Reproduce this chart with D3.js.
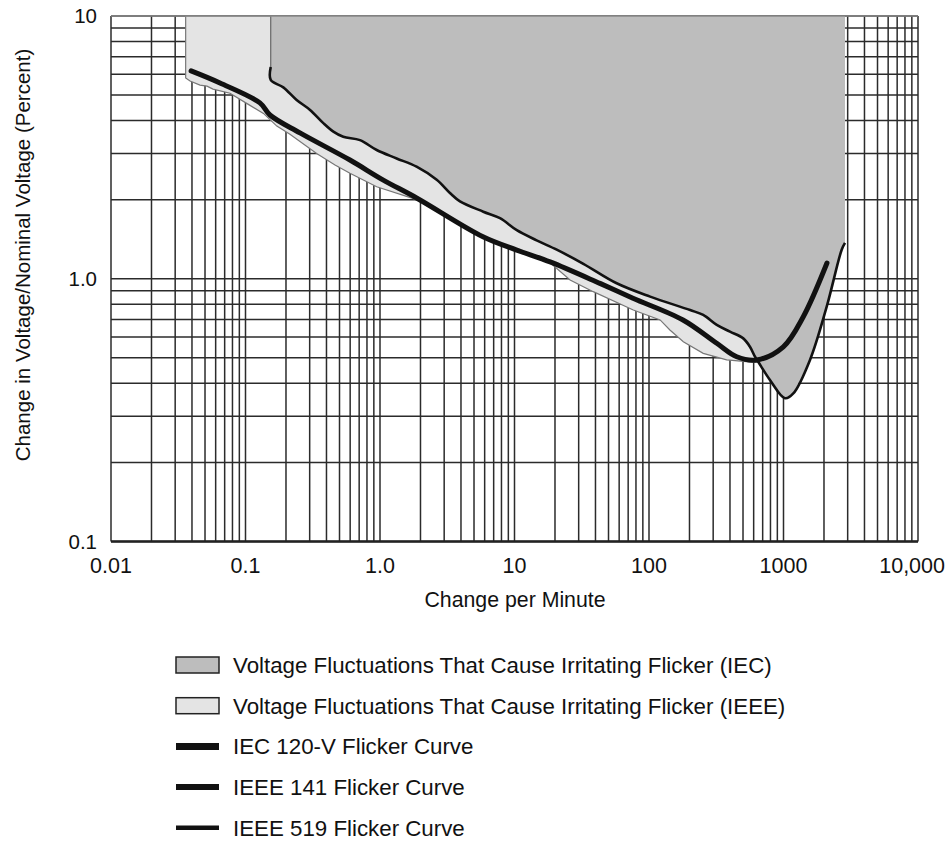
<!DOCTYPE html>
<html>
<head>
<meta charset="utf-8">
<script src="https://cdnjs.cloudflare.com/ajax/libs/d3/7.8.5/d3.min.js"></script>
<style>
  body { margin: 0; background: #fff; }
  text { font-family: "Liberation Sans", Arial, sans-serif; fill: #111; }
</style>
</head>
<body>
<div id="chart"></div>
<script>
// tick labels
const xTickValues = [0.01, 0.1, 1, 10, 100, 1000, 10000];
const xTickLabels = ["0.01", "0.1", "1.0", "10", "100", "1000", "10,000"];
const yTickValues = [10, 1, 0.1];
const yTickLabels = ["10", "1.0", "0.1"];

// IEC region (changes per minute, percent) - top left, wavy lower edge, V, right edge
const iecZone = [
  [0.154, 10], [0.154, 6.40], [0.154, 5.71], [0.191, 5.35], [0.240, 4.79], [0.302, 4.39],
  [0.379, 3.91], [0.450, 3.63], [0.533, 3.47], [0.710, 3.37], [0.945, 3.09], [1.33, 2.87],
  [1.87, 2.67], [2.64, 2.38], [3.31, 2.12], [3.93, 1.97], [5.86, 1.80], [7.80, 1.70],
  [10.4, 1.53], [14.6, 1.40], [20.6, 1.29], [32.5, 1.14], [57.5, 0.961], [102, 0.855],
  [202, 0.760], [253, 0.728], [319, 0.667], [400, 0.629], [502, 0.593], [563, 0.551],
  [614, 0.505], [649, 0.483], [793, 0.412], [1026, 0.351], [1183, 0.366], [1574, 0.491],
  [2095, 0.783], [2708, 1.29], [2866, 1.37], [2866, 10]
];

// IEEE region lower edge
const ieeeZone = [
  [0.0359, 10], [0.0359, 5.81], [0.0387, 5.66], [0.0459, 5.46], [0.0517, 5.41], [0.0573, 5.27],
  [0.0767, 5.08], [0.102, 4.65], [0.136, 4.26], [0.171, 3.81], [0.214, 3.55], [0.338, 3.00],
  [0.463, 2.71], [0.598, 2.52], [0.945, 2.24], [1.87, 2.0], [5.83, 1.43], [10.4, 1.27],
  [18.4, 1.15], [25.9, 0.989], [38.5, 0.893], [76.4, 0.760], [121, 0.697], [143, 0.638],
  [180, 0.576], [253, 0.520], [378, 0.491], [583, 0.482], [650, 0.482], [650, 10]
];

// flicker curve (thick line)
const flickerCurve = [
  [0.0394, 6.18], [0.0646, 5.56], [0.128, 4.67], [0.152, 4.20], [0.254, 3.59], [0.598, 2.83],
  [1.05, 2.38], [1.87, 2.03], [5.83, 1.445], [10.4, 1.286], [18.4, 1.159], [43.2, 0.96],
  [76, 0.843], [179, 0.697], [319, 0.568], [449, 0.505], [632, 0.491], [997, 0.551],
  [1403, 0.717], [2105, 1.148]
];

const legendItems = [
  { label: "Voltage Fluctuations That Cause Irritating Flicker (IEC)", type: "fill", color: "#bdbdbd" },
  { label: "Voltage Fluctuations That Cause Irritating Flicker (IEEE)", type: "fill", color: "#e4e4e4" },
  { label: "IEC 120-V Flicker Curve", type: "line", width: 7 },
  { label: "IEEE 141 Flicker Curve", type: "line", width: 6 },
  { label: "IEEE 519 Flicker Curve", type: "line", width: 4.5 }
];

let width = 946, height = 841;
let plot = { left: 111, right: 918, top: 16, bottom: 541.5 };

let svg = d3.select('#chart').append('svg')
  .attr('width', width)
  .attr('height', height)
  .style('background', '#fff');

let x = d3.scaleLog().domain([0.01, 10000]).range([plot.left, plot.right]);
let y = d3.scaleLog().domain([0.1, 10]).range([plot.bottom, plot.top]);

// grid lines at every 1..9 of each decade
let xGrid = [];
for (let d = 0.01; d < 10000; d *= 10) {
  for (let k = 1; k < 10; k++) xGrid.push(+(k * d).toPrecision(3));
}
xGrid.push(10000);
let yGrid = [];
for (let d = 0.1; d < 10; d *= 10) {
  for (let k = 1; k < 10; k++) yGrid.push(+(k * d).toPrecision(3));
}
yGrid.push(10);

let grid = svg.append('g');
grid.selectAll('line.v').data(xGrid).enter().append('line')
  .attr('x1', d => x(d)).attr('x2', d => x(d))
  .attr('y1', plot.top).attr('y2', plot.bottom)
  .attr('stroke', '#2b2b2b').attr('stroke-width', 1.5);
grid.selectAll('line.h').data(yGrid).enter().append('line')
  .attr('y1', d => y(d)).attr('y2', d => y(d))
  .attr('x1', plot.left).attr('x2', plot.right)
  .attr('stroke', '#2b2b2b').attr('stroke-width', 1.5);

let area = d3.line().x(d => x(d[0])).y(d => y(d[1]));
let smooth = d3.line().x(d => x(d[0])).y(d => y(d[1])).curve(d3.curveCatmullRom.alpha(0.5));

// IEEE (light) zone
svg.append('path')
  .attr('d', area(ieeeZone) + 'Z')
  .attr('fill', '#e4e4e4')
  .attr('stroke', '#777')
  .attr('stroke-width', 1.2);

// IEC (darker) zone
svg.append('path')
  .attr('d', area(iecZone) + 'Z')
  .attr('fill', '#bdbdbd')
  .attr('stroke', 'none');
svg.append('path')
  .attr('d', area(iecZone.slice(0, 2)))
  .attr('fill', 'none')
  .attr('stroke', '#666')
  .attr('stroke-width', 1.2);
svg.append('path')
  .attr('d', smooth(iecZone.slice(1, iecZone.length - 1)))
  .attr('fill', 'none')
  .attr('stroke', '#111')
  .attr('stroke-width', 2.6)
  .attr('stroke-linejoin', 'round');

// flicker curve
svg.append('path')
  .attr('d', smooth(flickerCurve))
  .attr('fill', 'none')
  .attr('stroke', '#111')
  .attr('stroke-width', 5)
  .attr('stroke-linecap', 'round')
  .attr('stroke-linejoin', 'round');

// frame
svg.append('line')
  .attr('x1', plot.left).attr('x2', plot.right)
  .attr('y1', y(10)).attr('y2', y(10))
  .attr('stroke', '#888').attr('stroke-width', 1.5);
svg.append('line')
  .attr('x1', plot.left).attr('x2', plot.right)
  .attr('y1', y(0.1)).attr('y2', y(0.1))
  .attr('stroke', '#222').attr('stroke-width', 2.5);

// tick labels
svg.append('g').selectAll('text').data(xTickValues).enter().append('text')
  .attr('x', (d, i) => i == xTickValues.length - 1 ? x(d) + 27 : x(d))
  .attr('y', 573)
  .attr('text-anchor', (d, i) => i == xTickValues.length - 1 ? 'end' : 'middle')
  .style('font-size', '21.5px')
  .text((d, i) => xTickLabels[i]);

svg.append('g').selectAll('text').data(yTickValues).enter().append('text')
  .attr('x', 97)
  .attr('y', d => y(d))
  .attr('dy', '0.35em')
  .attr('text-anchor', 'end')
  .style('font-size', '20.5px')
  .text((d, i) => yTickLabels[i]);

// axis titles
svg.append('text')
  .attr('x', 515)
  .attr('y', 607)
  .attr('text-anchor', 'middle')
  .style('font-size', '21.3px')
  .text('Change per Minute');

svg.append('text')
  .attr('transform', 'translate(30, 255) rotate(-90)')
  .attr('text-anchor', 'middle')
  .style('font-size', '20.5px')
  .text('Change in Voltage/Nominal Voltage (Percent)');

// legend
let legend = svg.append('g').attr('transform', 'translate(176, 665)');
let rows = legend.selectAll('g').data(legendItems).enter().append('g')
  .attr('transform', (d, i) => 'translate(0,' + (i * 40.7) + ')');

rows.filter(d => d.type == 'fill').append('rect')
  .attr('x', 0).attr('y', -8).attr('width', 43).attr('height', 16)
  .attr('fill', d => d.color)
  .attr('stroke', '#222').attr('stroke-width', 1.5);

rows.filter(d => d.type == 'line').append('line')
  .attr('x1', 0).attr('x2', 43).attr('y1', 0).attr('y2', 0)
  .attr('stroke', '#111')
  .attr('stroke-width', d => d.width);

rows.append('text')
  .attr('x', 57)
  .attr('y', 0)
  .attr('dy', '0.35em')
  .style('font-size', '22.3px')
  .text(d => d.label);
</script>
</body>
</html>
